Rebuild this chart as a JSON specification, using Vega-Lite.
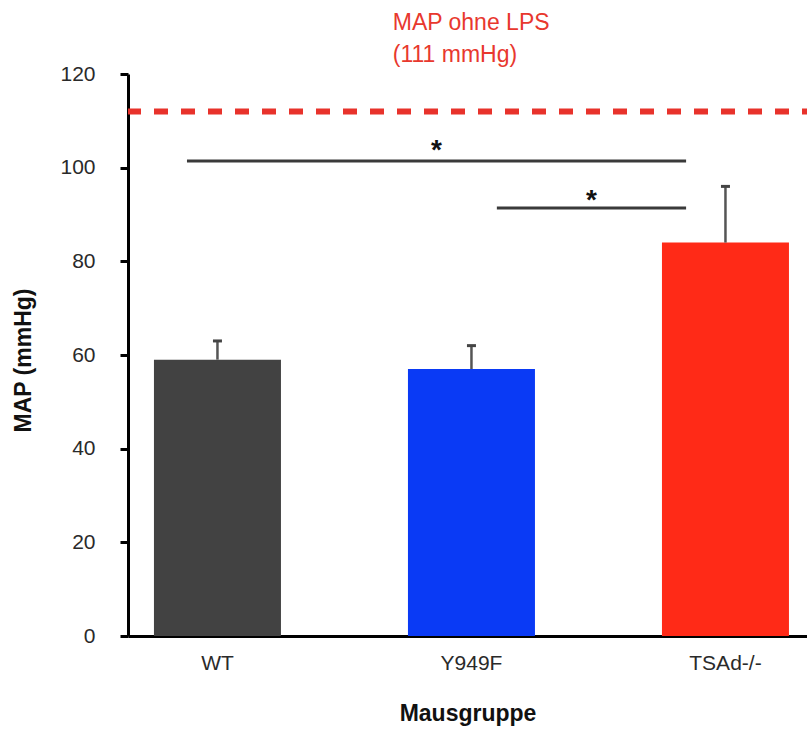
{
  "$schema": "https://vega.github.io/schema/vega-lite/v6.json",
  "width": 679,
  "height": 562,
  "autosize": {"type": "none"},
  "padding": {"left": 128, "top": 74, "right": 0, "bottom": 93},
  "config": {"view": {"stroke": null}, "font": "Liberation Sans"},
  "datasets": {
    "bars": [
      {"gruppe": "WT", "map": 59, "err": 63},
      {"gruppe": "Y949F", "map": 57, "err": 62},
      {"gruppe": "TSAd-/-", "map": 84, "err": 96}
    ],
    "ref": [{"ref": 112}],
    "sig1": [{"from": "WT", "to": "TSAd-/-", "y": 101.4, "star": "Y949F", "sy": 105.3, "label": "*"}],
    "sig2": [{"from": "Y949F", "to": "TSAd-/-", "y": 91.4, "star": "TSAd-/-", "sy": 94.6, "label": "*"}],
    "note": [
      {"grp": "Y949F", "y": 129.4, "label": "MAP ohne LPS"},
      {"grp": "Y949F", "y": 122.6, "label": "(111 mmHg)"}
    ]
  },
  "resolve": {"scale": {"x": "shared", "y": "shared"}},
  "layer": [
    {
      "data": {"name": "bars"},
      "mark": {"type": "bar"},
      "encoding": {
        "x": {
          "field": "gruppe", "type": "nominal", "sort": null,
          "scale": {"domain": ["WT", "Y949F", "TSAd-/-"], "paddingInner": 0.5, "paddingOuter": 0.0866, "align": 0.59},
          "axis": {
            "title": "Mausgruppe", "titleFontSize": 23, "titleFontWeight": "bold", "titleColor": "#111",
            "titleY": 84, "titleBaseline": "alphabetic",
            "labelAngle": 0, "labelFontSize": 21, "labelColor": "#2a2a2a", "labelPadding": 16,
            "ticks": false, "domainWidth": 3, "domainColor": "#000"
          }
        },
        "y": {
          "field": "map", "type": "quantitative",
          "scale": {"domain": [0, 120], "nice": false},
          "axis": {
            "values": [0, 20, 40, 60, 80, 100, 120], "grid": false,
            "title": "MAP (mmHg)", "titleFontSize": 23, "titleFontWeight": "bold", "titleColor": "#111",
            "titleX": -105, "titleY": 286, "titleAlign": "center", "titleBaseline": "middle",
            "labelFontSize": 21, "labelColor": "#2a2a2a", "labelPadding": 25,
            "tickSize": 8, "tickWidth": 3, "tickColor": "#000", "domainWidth": 3, "domainColor": "#000"
          }
        },
        "color": {
          "field": "gruppe", "type": "nominal",
          "scale": {"domain": ["WT", "Y949F", "TSAd-/-"], "range": ["#424242", "#0a3af5", "#ff2a17"]},
          "legend": null
        }
      }
    },
    {
      "data": {"name": "bars"},
      "mark": {"type": "rule", "strokeWidth": 2.5, "color": "#555"},
      "encoding": {
        "x": {"field": "gruppe", "type": "nominal"},
        "y": {"field": "map", "type": "quantitative"},
        "y2": {"field": "err"}
      }
    },
    {
      "data": {"name": "bars"},
      "mark": {"type": "tick", "size": 9, "thickness": 3, "color": "#444", "opacity": 1},
      "encoding": {
        "x": {"field": "gruppe", "type": "nominal"},
        "y": {"field": "err", "type": "quantitative"}
      }
    },
    {
      "data": {"name": "ref"},
      "mark": {"type": "rule", "strokeWidth": 6, "color": "#e8322b", "strokeDash": [14, 13], "strokeDashOffset": 9},
      "encoding": {
        "y": {"field": "ref", "type": "quantitative"}
      }
    },
    {
      "data": {"name": "sig1"},
      "mark": {"type": "rule", "strokeWidth": 3, "color": "#3a3a3a"},
      "encoding": {
        "x": {"field": "from", "type": "nominal", "bandPosition": 0.26},
        "x2": {"field": "to", "bandPosition": 0.19},
        "y": {"field": "y", "type": "quantitative"}
      }
    },
    {
      "data": {"name": "sig2"},
      "mark": {"type": "rule", "strokeWidth": 3, "color": "#3a3a3a"},
      "encoding": {
        "x": {"field": "from", "type": "nominal", "bandPosition": 0.70},
        "x2": {"field": "to", "bandPosition": 0.19},
        "y": {"field": "y", "type": "quantitative"}
      }
    },
    {
      "data": {"name": "sig1"},
      "mark": {"type": "text", "fontSize": 28, "fontWeight": "bold", "color": "#111", "baseline": "middle", "dy": 8},
      "encoding": {
        "x": {"field": "star", "type": "nominal", "bandPosition": 0.224},
        "y": {"field": "sy", "type": "quantitative"},
        "text": {"field": "label"}
      }
    },
    {
      "data": {"name": "sig2"},
      "mark": {"type": "text", "fontSize": 28, "fontWeight": "bold", "color": "#111", "baseline": "middle", "dy": 8},
      "encoding": {
        "x": {"field": "star", "type": "nominal", "bandPosition": -0.555},
        "y": {"field": "sy", "type": "quantitative"},
        "text": {"field": "label"}
      }
    },
    {
      "data": {"name": "note"},
      "mark": {"type": "text", "fontSize": 23, "color": "#e8382e", "align": "left", "baseline": "alphabetic"},
      "encoding": {
        "x": {"field": "grp", "type": "nominal", "bandPosition": -0.12},
        "y": {"field": "y", "type": "quantitative"},
        "text": {"field": "label"}
      }
    }
  ]
}
